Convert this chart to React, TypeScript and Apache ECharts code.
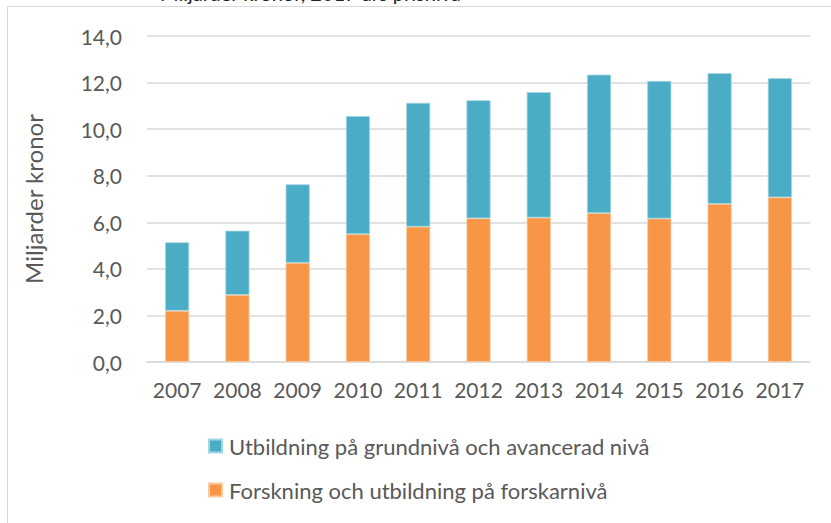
import React, { useEffect, useRef } from "react";
import * as echarts from "echarts";

const years = ["2007", "2008", "2009", "2010", "2011", "2012", "2013", "2014", "2015", "2016", "2017"];
const forskning = [2.2, 2.88, 4.26, 5.49, 5.81, 6.17, 6.2, 6.39, 6.16, 6.79, 7.07];
const utbildning = [2.94, 2.76, 3.37, 5.07, 5.32, 5.07, 5.39, 5.95, 5.91, 5.62, 5.12];
const nameForskning = "Forskning och utbildning på forskarnivå";
const nameUtbildning = "Utbildning på grundnivå och avancerad nivå";
const yAxisName = "Miljarder kronor";
const titleText = "Miljarder kronor, 2017 års prisnivå";

const FONT = "Lato, 'Open Sans', sans-serif";
const TEXT = "#595959";

export default function App() {
  const ref = useRef<HTMLDivElement>(null);
  useEffect(() => {
    if (!ref.current) return;
    const chart = echarts.init(ref.current, null, { renderer: "svg" });
    chart.setOption({
      animation: false,
      backgroundColor: "#ffffff",
      textStyle: { fontFamily: FONT },
      graphic: [
        {
          type: "rect",
          shape: { x: 7.5, y: 6.5, width: 900, height: 900 },
          style: { fill: "none", stroke: "#D9D9D9", lineWidth: 1 },
          silent: true,
        },
        {
          type: "text",
          x: 160,
          y: -7,
          style: {
            text: titleText,
            fontSize: 20,
            fontFamily: FONT,
            fill: "#222222",
            verticalAlign: "middle",
          },
          silent: true,
        },
      ],
      grid: { left: 147, right: 21, top: 36, bottom: 161, outerBoundsMode: "none" },
      legend: {
        orient: "vertical",
        left: 203,
        top: 430,
        itemWidth: 13,
        itemHeight: 13,
        itemGap: 22,
        icon: "rect",
        data: [nameUtbildning, nameForskning],
        textStyle: { fontSize: 22, color: TEXT, fontFamily: FONT, padding: [0, 0, 0, 2] },
      },
      xAxis: {
        type: "category",
        data: years,
        axisLine: { show: true, lineStyle: { color: "#D9D9D9", width: 1.5 } },
        axisTick: { show: false },
        axisLabel: { color: TEXT, fontSize: 21, margin: 17, fontFamily: FONT, interval: 0 },
      },
      yAxis: {
        type: "value",
        min: 0,
        max: 14,
        interval: 2,
        name: yAxisName,
        nameLocation: "middle",
        nameGap: 102,
        nameTextStyle: { color: TEXT, fontSize: 24, fontFamily: FONT },
        axisLine: { show: false },
        axisTick: { show: false },
        splitLine: { lineStyle: { color: "#D9D9D9", width: 1.5 } },
        axisLabel: {
          color: TEXT,
          fontSize: 21,
          margin: 25,
          fontFamily: FONT,
          formatter: (v: number) => v.toFixed(1).replace(".", ","),
        },
      },
      series: [
        {
          name: nameForskning,
          type: "bar",
          stack: "total",
          data: forskning,
          barWidth: "40%",
          itemStyle: { color: "#F79646", borderColor: "#FAC9A0", borderWidth: 0.8 },
        },
        {
          name: nameUtbildning,
          type: "bar",
          stack: "total",
          data: utbildning,
          barWidth: "40%",
          itemStyle: { color: "#4BACC6", borderColor: "#A5D5E2", borderWidth: 0.8 },
        },
      ],
    });
    return () => chart.dispose();
  }, []);
  return (
    <div
      ref={ref}
      style={{ position: "fixed", left: 0, top: 0, width: 831, height: 523 }}
    />
  );
}
